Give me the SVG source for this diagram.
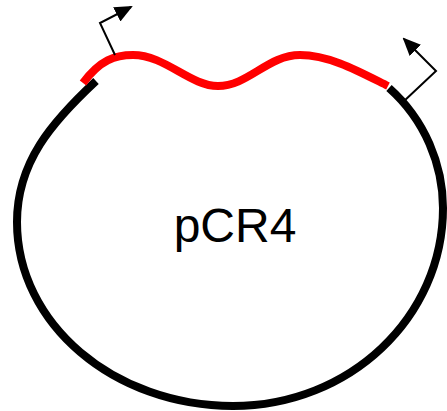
<svg xmlns="http://www.w3.org/2000/svg" width="447" height="411" viewBox="0 0 447 411">
<defs>
<style>
.bb{fill:none;stroke:#000;stroke-width:8;stroke-linecap:butt}
.rd{fill:none;stroke:#f00;stroke-width:8;stroke-linecap:butt}
.pr{fill:none;stroke:#000;stroke-width:2}
.lbl{font-family:"Liberation Sans",Arial,sans-serif;font-size:48px;fill:#000}
</style>
<marker id="ah" markerUnits="userSpaceOnUse" markerWidth="18" markerHeight="16" refX="16" refY="8" orient="auto" viewBox="0 0 18 16">
<path d="M0,0 L18,8 L0,16 Z" fill="#000"/>
</marker>
</defs>
<rect width="447" height="411" fill="#fff"/>
<g id="plasmid">
<path class="bb" d="M96,81 C52,122 17,162 17,222 C17,324 114,406 233,406 C350,406 443,317 443,208 C443,165 425,120 389,88"/>
</g>
<g id="insert">
<path class="rd" d="M83,83 C100,60 115,55 133,55 C165,55 190,86 218,86 C248,86 268,55 300,55 C330,55 360,72 388,86"/>
</g>
<g id="connectors">
<path class="pr" d="M115,55 L100,23 L131,7" marker-end="url(#ah)"/>
<path class="pr" d="M403,102 L436,71 L404,39" marker-end="url(#ah)"/>
</g>
<g id="label">
<text class="lbl" x="235" y="242" text-anchor="middle">pCR4</text>
</g>
</svg>
